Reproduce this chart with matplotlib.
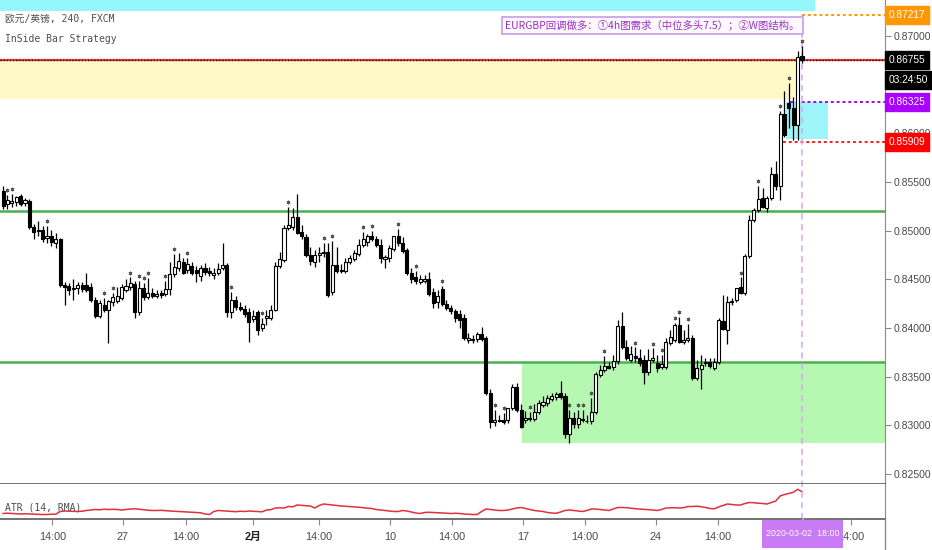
import numpy as np
import matplotlib
matplotlib.use("Agg")
import matplotlib.pyplot as plt
import matplotlib.transforms as mtransforms
from matplotlib.patches import Rectangle
from matplotlib.lines import Line2D
from matplotlib.ticker import FormatStrFormatter

# EURGBP 4h candles
opens = [
    .8541, .8527, .8528, .8529, .8536, .8528, .8530, .8504, .8501, .8501,
    .8492, .8494, .8487, .8491, .8444, .8443, .8440, .8441, .8444, .8444,
    .8442, .8429, .8412, .8424, .8418, .8427, .8428, .8431, .8439, .8442,
    .8445, .8416, .8441, .8432, .8436, .8433, .8436, .8435, .8440, .8455,
    .8462, .8468, .8460, .8464, .8460, .8453, .8462, .8459, .8454, .8456,
    .8462, .8465, .8416, .8429, .8422, .8420, .8416, .8409, .8416, .8400,
    .8410, .8410, .8419, .8464, .8470, .8503, .8504, .8514, .8499, .8493,
    .8475, .8468, .8475, .8477, .8478, .8437, .8465, .8460, .8459, .8468,
    .8471, .8476, .8485, .8488, .8495, .8491, .8485, .8471, .8472, .8481,
    .8494, .8487, .8480, .8456, .8452, .8447, .8448, .8450, .8437, .8427,
    .8440, .8425, .8421, .8417, .8414, .8410, .8388, .8388, .8389, .8394,
    .8390, .8333, .8303, .8306, .8306, .8306, .8318, .8339, .8316, .8306,
    .8308, .8307, .8314, .8321, .8323, .8327, .8329, .8333, .8330, .8291,
    .8308, .8301, .8307, .8305, .8304, .8314, .8352, .8357, .8361, .8360,
    .8366, .8402, .8381, .8367, .8371, .8369, .8367, .8355, .8367, .8364,
    .8360, .8360, .8385, .8388, .8403, .8386, .8388, .8390, .8349, .8358,
    .8365, .8365, .8359, .8365, .8407, .8398, .8427, .8429, .8442, .8436,
    .8474, .8511, .8521, .8534, .8523, .8534, .8558, .8546, .8620, .8631,
    .8626, .8609, .8679,
]
highs = [
    .8546, .8537, .8538, .8536, .8538, .8534, .8533, .8507, .8510, .8505,
    .8505, .8501, .8498, .8492, .8447, .8446, .8450, .8447, .8447, .8457,
    .8446, .8432, .8429, .8431, .8429, .8436, .8442, .8445, .8450, .8452,
    .8448, .8448, .8446, .8451, .8441, .8439, .8439, .8448, .8468, .8476,
    .8477, .8472, .8472, .8468, .8464, .8465, .8467, .8463, .8462, .8467,
    .8487, .8467, .8437, .8433, .8427, .8424, .8421, .8419, .8419, .8410,
    .8419, .8424, .8468, .8478, .8506, .8524, .8523, .8538, .8506, .8497,
    .8483, .8480, .8483, .8487, .8487, .8489, .8483, .8466, .8472, .8475,
    .8480, .8491, .8499, .8497, .8500, .8495, .8491, .8475, .8485, .8495,
    .8502, .8493, .8482, .8462, .8459, .8454, .8454, .8458, .8441, .8439,
    .8443, .8429, .8424, .8420, .8418, .8414, .8395, .8393, .8396, .8401,
    .8392, .8337, .8316, .8311, .8313, .8318, .8342, .8344, .8322, .8315,
    .8314, .8322, .8326, .8330, .8331, .8333, .8334, .8346, .8333, .8316,
    .8314, .8316, .8316, .8311, .8328, .8355, .8362, .8371, .8365, .8372,
    .8408, .8416, .8388, .8382, .8380, .8378, .8372, .8378, .8379, .8372,
    .8372, .8390, .8398, .8405, .8411, .8398, .8404, .8393, .8367, .8372,
    .8369, .8369, .8369, .8410, .8434, .8433, .8431, .8441, .8452, .8476,
    .8516, .8523, .8546, .8544, .8536, .8565, .8572, .8623, .8643, .8652,
    .8637, .8685, .8690,
]
lows = [
    .8522, .8522, .8524, .8525, .8525, .8525, .8502, .8491, .8495, .8488,
    .8487, .8484, .8482, .8442, .8424, .8434, .8429, .8435, .8437, .8437,
    .8427, .8410, .8410, .8416, .8385, .8423, .8426, .8429, .8437, .8439,
    .8410, .8413, .8429, .8430, .8431, .8431, .8431, .8433, .8434, .8452,
    .8459, .8455, .8457, .8454, .8447, .8448, .8454, .8453, .8450, .8454,
    .8460, .8411, .8410, .8419, .8417, .8411, .8386, .8406, .8393, .8397,
    .8403, .8408, .8417, .8462, .8468, .8501, .8501, .8497, .8491, .8473,
    .8465, .8463, .8468, .8473, .8432, .8434, .8457, .8457, .8457, .8466,
    .8469, .8474, .8483, .8484, .8489, .8483, .8467, .8462, .8468, .8479,
    .8484, .8477, .8454, .8446, .8445, .8445, .8446, .8433, .8421, .8421,
    .8423, .8418, .8414, .8406, .8400, .8388, .8385, .8385, .8386, .8387,
    .8331, .8297, .8299, .8303, .8301, .8302, .8316, .8314, .8297, .8302,
    .8305, .8305, .8312, .8319, .8320, .8325, .8326, .8327, .8287, .8282,
    .8297, .8297, .8303, .8302, .8301, .8312, .8350, .8355, .8358, .8357,
    .8363, .8378, .8367, .8365, .8365, .8361, .8342, .8352, .8365, .8355,
    .8358, .8358, .8383, .8386, .8385, .8384, .8386, .8347, .8347, .8337,
    .8361, .8359, .8357, .8363, .8398, .8384, .8424, .8427, .8435, .8434,
    .8472, .8509, .8519, .8523, .8519, .8532, .8542, .8532, .8596, .8605,
    .8593, .8593, .8672,
]
closes = [
    .8525, .8532, .8530, .8535, .8527, .8532, .8504, .8499, .8500, .8491,
    .8495, .8488, .8491, .8444, .8442, .8439, .8441, .8444, .8440, .8439,
    .8429, .8412, .8426, .8419, .8428, .8432, .8433, .8442, .8443, .8446,
    .8416, .8441, .8432, .8436, .8433, .8435, .8434, .8440, .8455, .8463,
    .8469, .8457, .8466, .8457, .8456, .8462, .8458, .8457, .8457, .8461,
    .8465, .8416, .8429, .8422, .8420, .8414, .8406, .8412, .8398, .8404,
    .8412, .8419, .8464, .8471, .8503, .8506, .8514, .8498, .8495, .8475,
    .8469, .8475, .8477, .8478, .8434, .8465, .8459, .8459, .8468, .8472,
    .8477, .8485, .8491, .8494, .8491, .8485, .8472, .8473, .8482, .8494,
    .8487, .8479, .8456, .8450, .8448, .8450, .8450, .8435, .8426, .8433,
    .8425, .8421, .8417, .8410, .8408, .8390, .8390, .8389, .8394, .8389,
    .8333, .8303, .8306, .8305, .8303, .8318, .8339, .8316, .8298, .8308,
    .8307, .8314, .8323, .8324, .8328, .8330, .8332, .8329, .8291, .8308,
    .8301, .8308, .8306, .8304, .8314, .8353, .8357, .8361, .8359, .8366,
    .8402, .8380, .8369, .8373, .8369, .8364, .8355, .8367, .8369, .8359,
    .8363, .8386, .8391, .8403, .8386, .8388, .8390, .8349, .8359, .8362,
    .8364, .8361, .8365, .8408, .8399, .8427, .8428, .8441, .8436, .8474,
    .8511, .8521, .8533, .8524, .8534, .8558, .8546, .8620, .8598, .8626,
    .8609, .8678, .86755,
]
# ATR(14, RMA) in pips
atr = [
    19.5, 19.8, 19.5, 19.2, 19.0, 19.2, 19.0, 18.8, 18.5, 18.5,
    18.5, 18.8, 18.8, 21.5, 22.0, 21.8, 21.5, 21.5, 21.8, 22.5,
    23.0, 23.5, 23.2, 23.8, 23.5, 23.7, 23.5, 23.0, 23.5, 24.0,
    24.2, 23.8, 23.3, 22.8, 22.5, 22.5, 22.7, 22.3, 22.0, 21.8,
    21.5, 21.2, 21.0, 20.8, 20.5, 20.2, 19.0, 18.5, 21.5, 22.5,
    22.2, 21.8, 21.6, 21.3, 21.8, 21.5, 22.0, 21.7, 21.4, 21.2,
    23.0, 23.3, 25.0, 25.2, 25.0, 26.5, 26.2, 28.0, 27.6, 27.3,
    27.0, 25.0, 27.5, 29.0, 28.5, 28.0, 27.5, 27.0, 26.7, 26.5,
    26.2, 25.8, 25.3, 24.8, 24.5, 23.5, 23.0, 22.5, 22.0, 21.5,
    21.5, 22.5, 22.0, 21.0, 20.0, 19.5, 20.5, 20.7, 20.5, 20.3,
    20.0, 19.8, 19.5, 19.7, 19.5, 19.0, 18.7, 18.5, 18.5, 21.5,
    24.0, 23.5, 23.0, 22.5, 22.5, 23.0, 24.0, 25.0, 25.5, 24.5,
    23.5, 22.5, 22.0, 21.5, 20.5, 20.0, 19.7, 21.0, 22.5, 23.0,
    22.5, 22.0, 21.5, 22.5, 24.0, 24.0, 23.5, 23.0, 22.5, 24.0,
    25.5, 25.5, 25.3, 24.8, 24.3, 24.0, 23.8, 23.5, 23.0, 22.5,
    23.5, 25.0, 25.2, 25.3, 25.0, 25.3, 26.5, 26.5, 26.8, 26.3,
    25.5, 24.5, 24.2, 26.0, 27.5, 29.0, 28.5, 28.0, 28.0, 29.5,
    30.5, 30.3, 29.8, 29.5, 29.0, 30.5, 32.0, 37.0, 38.5, 39.5,
    40.7, 43.7, 41.3,
]
# inside-bar marks (bar index)
inside_bars = [1, 2, 10, 23, 25, 29, 31, 32, 33, 37, 39, 42, 52, 59, 65, 73, 75,
               82, 84, 90, 94, 100, 112, 114, 120, 129, 131, 132, 134, 137, 144,
               148, 150, 153, 154, 156, 168, 172, 177, 179, 182]

tick_pos = [11.2, 27.3, 41.7, 57, 72, 88.2, 102.3, 118.5, 132.6, 148.7, 162.9, 193.2]
tick_labels = ["14:00", "27", "14:00", "2月", "14:00", "10", "14:00", "17",
               "14:00", "24", "14:00", "14:00"]
price_ticks = [0.825, 0.830, 0.835, 0.840, 0.845, 0.850, 0.855, 0.860, 0.870]

# drawn levels / zones
support_hi = 0.8520
support_lo = 0.8365
last_price = 0.86755
target = 0.87217
entry = 0.86325
stop = 0.85909
note = "EURGBP回调做多：①4h图需求（中位多头7.5）；②W图结构。"

W, H = 932, 550
sans = ["Liberation Sans", "DejaVu Sans"]
fig = plt.figure(figsize=(W / 100, H / 100), dpi=100)
fig.patch.set_facecolor("white")
ax = fig.add_axes([0, 1 - 484 / H, 885 / W, 484 / H])
ax2 = fig.add_axes([0, 1 - 519 / H, 885 / W, 35 / H], sharex=ax)

o = np.array(opens); h = np.array(highs); l = np.array(lows); c = np.array(closes)
x = np.arange(len(c))
ax.set_xlim(-0.7, 200.9)
ax.set_ylim(0.82398, 0.87369)

# zones
ax.add_patch(Rectangle((-1, 0.8726), 186, 0.0012, fc="#93f7fb", ec="none", zorder=0))
ax.add_patch(Rectangle((-1, 0.8635), 181.9, 0.0039, fc="#fff9c8", ec="none", zorder=0))
ax.add_patch(Rectangle((178.4, 0.8594), 9.5, 0.0038, fc="#9ff6fa", ec="none", zorder=0))
ax.add_patch(Rectangle((118.2, 0.8282), 83, support_lo - 0.8282, fc="#b6f8b2", ec="none", zorder=0))
ax.axhline(support_hi, color="#4caf50", lw=1.8, zorder=1)
ax.axhline(support_lo, color="#4caf50", lw=1.8, zorder=1)
ax.axhline(last_price, color="#e53935", lw=1.6, zorder=1)
ax.axhline(last_price, color="black", lw=0.9, ls=(0, (1, 1.5)), zorder=1)
ax.hlines(target, 182, 201, color="#ff9800", lw=1.4, ls=(0, (1.5, 1.5)), zorder=1)
ax.hlines(entry, 179.3, 201, color="#aa00ff", lw=1.4, ls=(0, (1.5, 1.5)), zorder=1)
ax.hlines(stop, 177.7, 201, color="#ff1a1a", lw=1.4, ls=(0, (1.5, 1.5)), zorder=1)
ax.vlines(182, 0.8, target, color="#d6a6f6", lw=1.1, ls=(0, (4, 3)), zorder=1)

# candles
up = c >= o
ax.vlines(x, l, h, color="black", lw=0.9, zorder=2)
ax.bar(x[up], c[up] - o[up], bottom=o[up], width=0.7, color="white",
       edgecolor="black", lw=0.8, zorder=3)
ax.bar(x[~up], c[~up] - o[~up], bottom=o[~up], width=0.7, color="black",
       edgecolor="black", lw=0.8, zorder=3)
ib = np.array(inside_bars)
ax.scatter(ib, h[ib] + 0.0005, marker=(6, 2, 0), s=5, c="#555555", lw=0.6, zorder=3)

# axes styling
for s in ["top", "left"]:
    ax.spines[s].set_visible(False)
ax.spines["right"].set_color("#8a8a8a")
ax.spines["bottom"].set_color("#5a5a5a")
ax.spines["bottom"].set_linewidth(1.2)
ax.yaxis.tick_right()
ax.set_yticks(price_ticks)
ax.yaxis.set_major_formatter(FormatStrFormatter("%.5f"))
ax.tick_params(axis="y", length=4, width=0.8, color="#8a8a8a", labelsize=7.5,
               labelcolor="#4a4a4a", pad=2)
for t in ax.get_yticklabels():
    t.set_family(sans)
ax.tick_params(axis="x", bottom=False, labelbottom=False)

# price labels on the scale
blend = mtransforms.blended_transform_factory(ax.transAxes, ax.transData)
for price, txt, fc in [(target, "0.87217", "#ff9800"), (last_price, "0.86755", "black"),
                       (0.86547, "03:24:50", "black"), (entry, "0.86325", "#aa00ff"),
                       (stop, "0.85909", "#ff0000")]:
    ax.text(1.004, price, txt, transform=blend, ha="left", va="center", fontsize=7.3,
            color="white", family=sans,
            bbox=dict(boxstyle="square,pad=0.38", fc=fc, ec=fc), clip_on=False, zorder=10)

# note box
ax.text(181.4, 0.8711, note, ha="right", va="center", fontsize=7.5, color="#9c2fc2",
        family=["Noto Sans CJK SC", "DejaVu Sans"], zorder=6,
        bbox=dict(boxstyle="square,pad=0.3", fc="#fdf9fe", ec="#c49ee4", lw=1.2))

# ATR pane
ax2.plot(x, atr, color="#e0303b", lw=1.1)
ax2.set_ylim(14, 49)
ax2.vlines(182, 14, 49, color="#d6a6f6", lw=1.1, ls=(0, (4, 3)))
ax2.spines["top"].set_visible(False)
ax2.spines["left"].set_visible(False)
ax2.spines["right"].set_color("#8a8a8a")
ax2.spines["bottom"].set_color("#5a5a5a")
ax2.spines["bottom"].set_linewidth(1.2)
ax2.set_yticks([])
ax2.set_xticks(tick_pos)
ax2.set_xticklabels(tick_labels)
ax2.tick_params(axis="x", length=4, width=0.8, color="#8a8a8a", labelsize=7.8,
                labelcolor="#4a4a4a", pad=5)
for t in ax2.get_xticklabels():
    t.set_family(["Liberation Sans", "Noto Sans CJK SC"])
    if t.get_text() == "2月":
        t.set_color("#222222")
        t.set_fontweight("bold")

fig.lines.append(Line2D([885 / W, 885 / W], [0, 1 - 519 / H], transform=fig.transFigure,
                        color="#8a8a8a", lw=1))
fig.lines.append(Line2D([803 / W, 803 / W], [1 - 521 / H, 1 - 519 / H], transform=fig.transFigure,
                        color="#d6a6f6", lw=1.1))

# crosshair time label
fig.patches.append(Rectangle((762 / W, 1 - 548 / H), 81 / W, 28 / H, transform=fig.transFigure,
                             fc="#c97af5", ec="none", zorder=5))
fig.text(802.5 / W, 1 - 534 / H, "2020-03-02  18:00", ha="center", va="center", fontsize=6.4,
         color="white", family=sans, zorder=6)

mono = ["DejaVu Sans Mono", "Noto Sans CJK SC"]
fig.text(5 / W, 1 - 19 / H, "欧元/英镑, 240, FXCM", ha="left", va="center", fontsize=7,
         color="#4d4d4d", family=mono)
fig.text(5 / W, 1 - 39 / H, "InSide Bar Strategy", ha="left", va="center", fontsize=7,
         color="#4d4d4d", family=mono)
fig.text(5 / W, 1 - 507 / H, "ATR (14, RMA)", ha="left", va="center", fontsize=7,
         color="#4d4d4d", family=mono)

fig.savefig("out.png", dpi=100)
